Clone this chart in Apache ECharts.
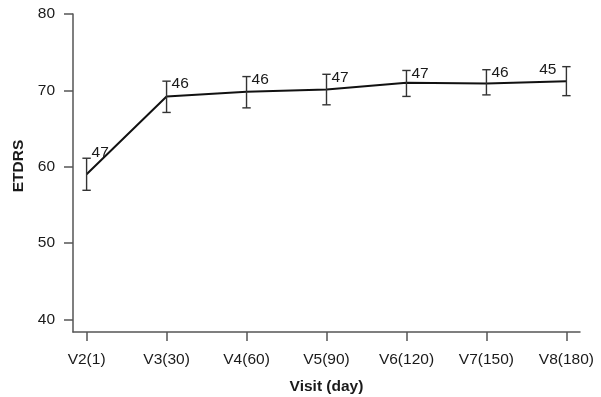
<!DOCTYPE html>
<html>
<head>
<meta charset="utf-8">
<script src="https://cdn.jsdelivr.net/npm/echarts@6/dist/echarts.min.js"></script>
<style>
html,body{margin:0;padding:0;background:#fff;}
#chart{width:601px;height:397px;}
</style>
</head>
<body>
<div id="chart"></div>
<script>
var categories = ['V2(1)', 'V3(30)', 'V4(60)', 'V5(90)', 'V6(120)', 'V7(150)', 'V8(180)'];
var meanValues = [59.0, 69.2, 69.8, 70.1, 71.0, 70.9, 71.2];
var lowerValues = [56.9, 67.1, 67.7, 68.1, 69.2, 69.4, 69.3];
var upperValues = [61.1, 71.2, 71.8, 72.1, 72.6, 72.7, 73.1];
var countLabels = [47, 46, 46, 47, 47, 46, 45];
var yTicks = [40, 50, 60, 70, 80];

var xIdx = categories.map(function (c, i) { return i; });
var lineData = xIdx.map(function (i) { return [i, meanValues[i]]; });
var errData = xIdx.map(function (i) { return [i, lowerValues[i], upperValues[i], countLabels[i]]; });

var FONT = '"Liberation Sans", Arial, Helvetica, sans-serif';
var chart = echarts.init(document.getElementById('chart'), null, {renderer: 'canvas'});

chart.setOption({
  animation: false,
  backgroundColor: '#ffffff',
  grid: {left: 73, right: 21, top: 14, bottom: 65, containLabel: false, outerBoundsMode: 'none'},
  xAxis: {
    type: 'value',
    min: -0.17,
    max: 6.17,
    name: 'Visit (day)',
    nameLocation: 'middle',
    nameGap: 47,
    nameTextStyle: {fontFamily: FONT, fontSize: 15.5, fontWeight: 'bold', color: '#1a1a1a'},
    splitLine: {show: false},
    axisLine: {show: true, onZero: false, lineStyle: {color: '#555', width: 1.5}},
    axisTick: {show: true, length: 9, customValues: xIdx, lineStyle: {color: '#555', width: 1.5}},
    axisLabel: {
      show: true, margin: 20, customValues: xIdx,
      fontFamily: FONT, fontSize: 15.5, color: '#1a1a1a',
      formatter: function (v) { return categories[Math.round(v)]; }
    }
  },
  yAxis: {
    type: 'value',
    min: 38.33,
    max: 80,
    name: 'ETDRS',
    nameLocation: 'middle',
    nameGap: 40,
    nameRotate: 90,
    nameTextStyle: {fontFamily: FONT, fontSize: 15.5, fontWeight: 'bold', color: '#1a1a1a', padding: [0, 0, 0, 14]},
    splitLine: {show: false},
    axisLine: {show: true, onZero: false, lineStyle: {color: '#555', width: 1.5}},
    axisTick: {show: true, length: 9, customValues: yTicks, lineStyle: {color: '#555', width: 1.5}},
    axisLabel: {show: true, margin: 18, customValues: yTicks, fontFamily: FONT, fontSize: 15.5, color: '#1a1a1a'}
  },
  series: [
    {
      type: 'line',
      data: lineData,
      symbol: 'none',
      lineStyle: {color: '#111', width: 2},
      z: 3
    },
    {
      type: 'custom',
      data: errData,
      z: 4,
      renderItem: function (params, api) {
        var idx = params.dataIndex;
        var i = api.value(0);
        var lo = api.coord([i, api.value(1)]);
        var hi = api.coord([i, api.value(2)]);
        var n = api.value(3);
        var hw = 4.2;
        var style = {stroke: '#333', lineWidth: 1.4};
        var last = idx === categories.length - 1;
        var steepNext = !last && (meanValues[idx + 1] - meanValues[idx] > 5);
        return {
          type: 'group',
          children: [
            {type: 'line', shape: {x1: hi[0], y1: hi[1], x2: lo[0], y2: lo[1]}, style: style},
            {type: 'line', shape: {x1: hi[0] - hw, y1: hi[1], x2: hi[0] + hw, y2: hi[1]}, style: style},
            {type: 'line', shape: {x1: lo[0] - hw, y1: lo[1], x2: lo[0] + hw, y2: lo[1]}, style: style},
            {
              type: 'text',
              style: {
                text: String(n),
                x: last ? hi[0] - 10 : hi[0] + 5,
                y: hi[1] + (steepNext ? -6 : 3),
                align: last ? 'right' : 'left',
                verticalAlign: 'middle',
                fontFamily: FONT,
                fontSize: 15.5,
                fill: '#1a1a1a'
              }
            }
          ]
        };
      }
    }
  ]
});
</script>
</body>
</html>
